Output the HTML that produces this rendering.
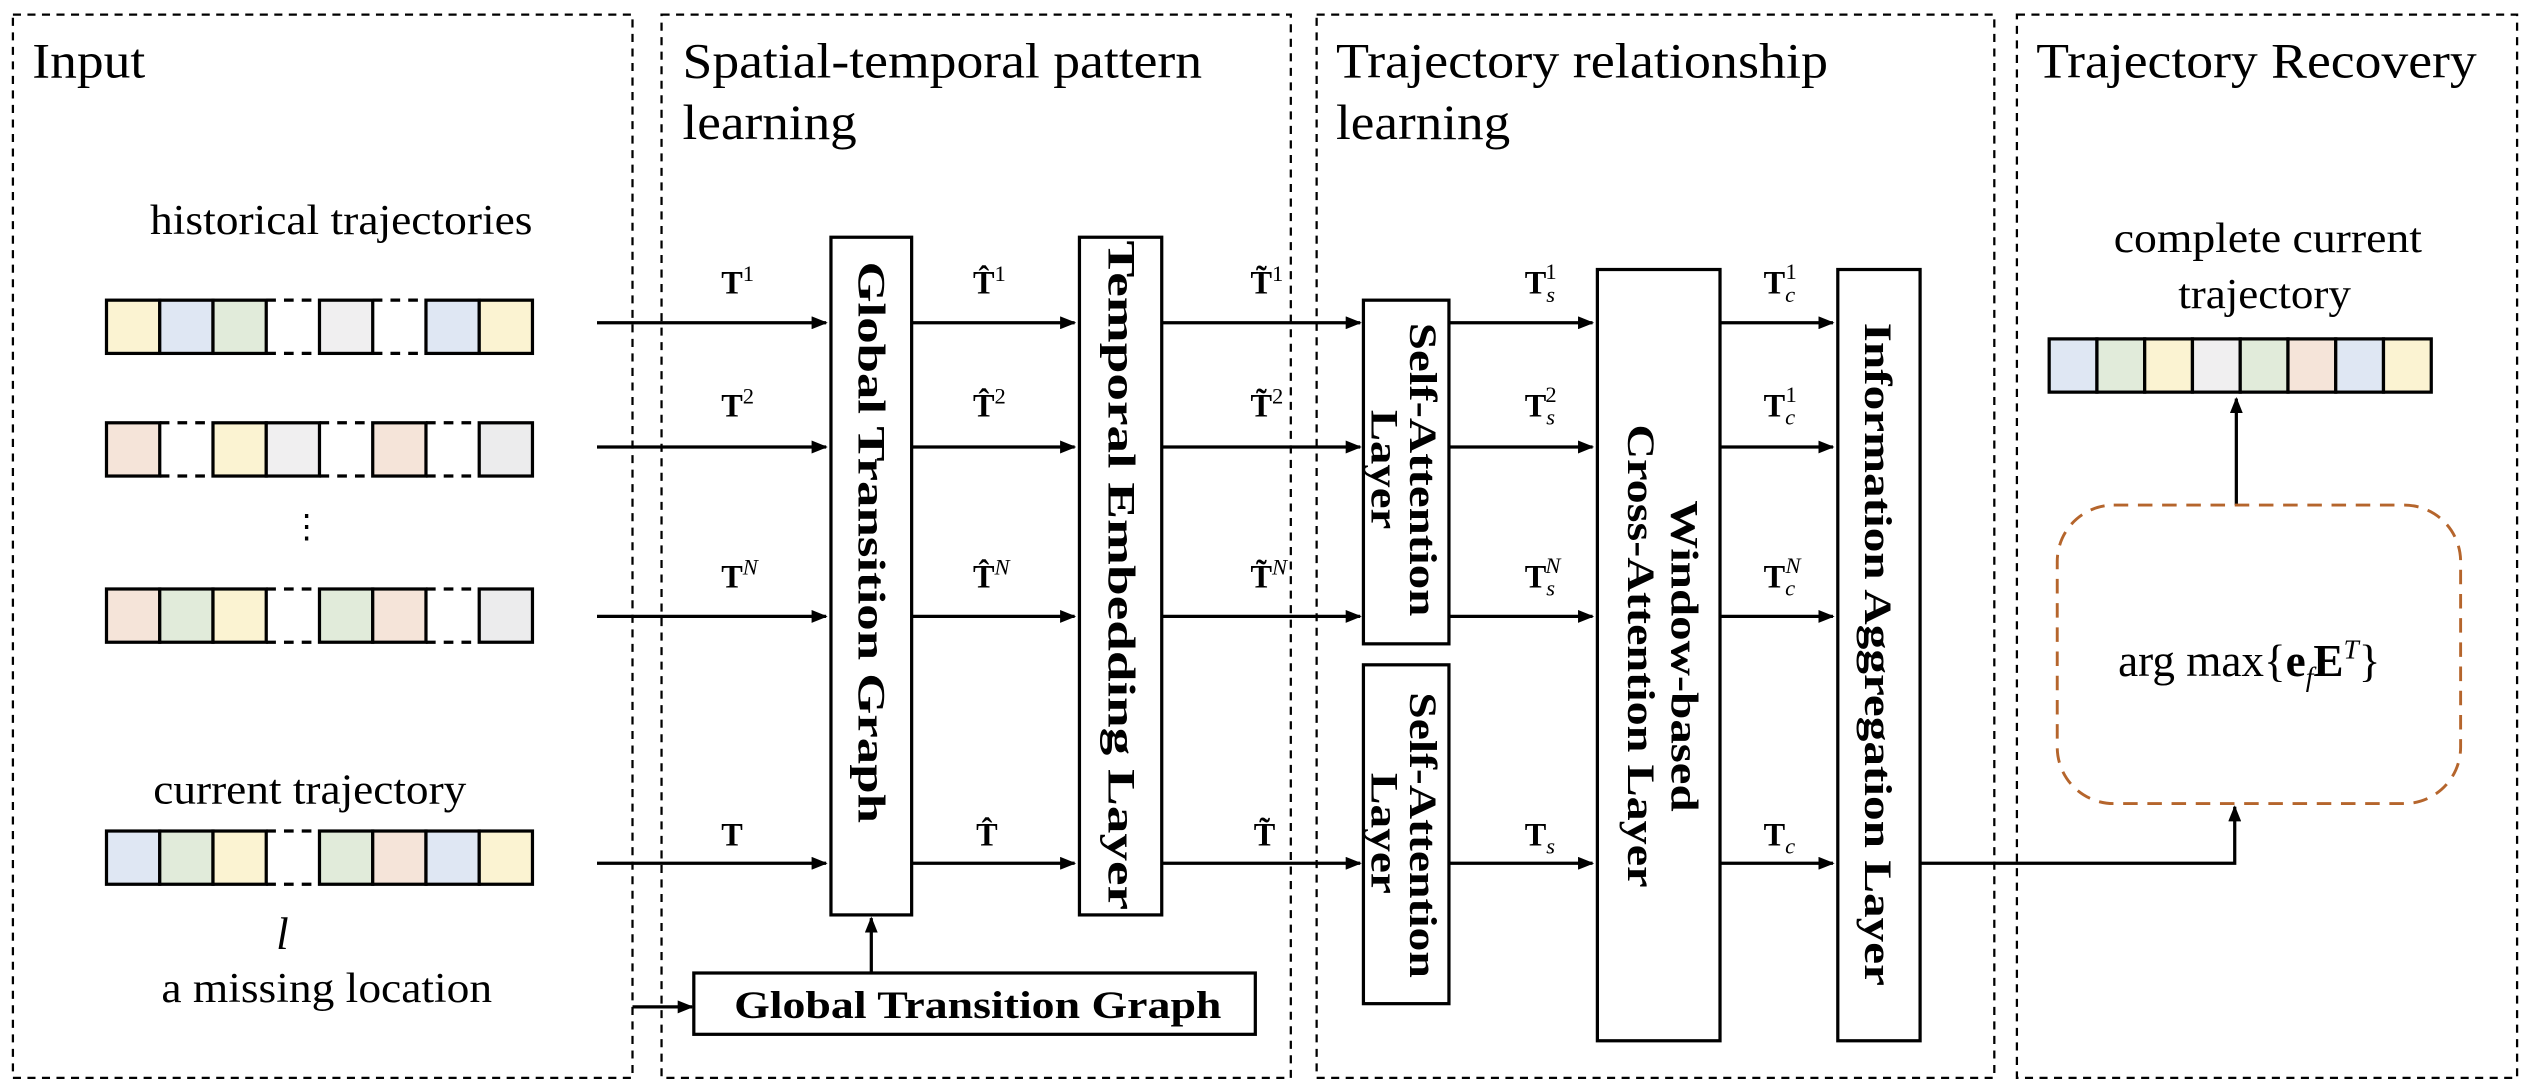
<!DOCTYPE html>
<html><head><meta charset="utf-8"><style>
html,body{margin:0;padding:0;background:#fff;}
svg{display:block;}
text{font-family:"Liberation Serif",serif;fill:#000;}
.t{font-size:31px;}
.s{font-size:26px;}
.m{font-size:19px;}
.b{font-weight:bold;font-size:20px;}
.v{font-weight:bold;font-size:24px;}
</style></head><body>
<svg width="2530" height="1086" viewBox="0 0 1568 673" xmlns="http://www.w3.org/2000/svg">
<defs>
<marker id="a" markerWidth="10" markerHeight="8" refX="9" refY="4" orient="auto" markerUnits="userSpaceOnUse">
<path d="M0,0 L10,4 L0,8 z" fill="#000"/></marker>
</defs>
<g fill="none" stroke="#000" stroke-width="1.4" stroke-dasharray="5,4">
<rect x="8" y="9" width="384" height="659"/>
<rect x="410" y="9" width="390" height="659"/>
<rect x="816" y="9" width="420" height="659"/>
<rect x="1250" y="9" width="310" height="659"/>
</g>
<text class="t" x="20" y="48" textLength="70" lengthAdjust="spacingAndGlyphs">Input</text>
<text class="t" x="423" y="48" textLength="322" lengthAdjust="spacingAndGlyphs">Spatial-temporal pattern</text>
<text class="t" x="423" y="86" textLength="108" lengthAdjust="spacingAndGlyphs">learning</text>
<text class="t" x="828" y="48" textLength="305" lengthAdjust="spacingAndGlyphs">Trajectory relationship</text>
<text class="t" x="828" y="86" textLength="108" lengthAdjust="spacingAndGlyphs">learning</text>
<text class="t" x="1262" y="48" textLength="273" lengthAdjust="spacingAndGlyphs">Trajectory Recovery</text>

<text class="s" x="93" y="145" textLength="237" lengthAdjust="spacingAndGlyphs">historical trajectories</text>
<text class="s" x="95" y="498" textLength="194" lengthAdjust="spacingAndGlyphs">current trajectory</text>
<text x="175" y="588" text-anchor="middle" style="font-size:28px;font-style:italic">l</text>
<text class="s" x="100" y="621" textLength="205" lengthAdjust="spacingAndGlyphs">a missing location</text>
<text x="190" y="333" text-anchor="middle" style="font-size:20px">⋮</text>

<g stroke="#000" stroke-width="2">
<rect x="66" y="186" width="33" height="33" fill="#fbf3d2"/>
<rect x="99" y="186" width="33" height="33" fill="#dfe7f3"/>
<rect x="132" y="186" width="33" height="33" fill="#e1ebda"/>
<rect x="198" y="186" width="33" height="33" fill="#f0eff0"/>
<rect x="264" y="186" width="33" height="33" fill="#dfe7f3"/>
<rect x="297" y="186" width="33" height="33" fill="#fbf3d2"/>
<rect x="66" y="262" width="33" height="33" fill="#f5e4d9"/>
<rect x="132" y="262" width="33" height="33" fill="#fbf3d2"/>
<rect x="165" y="262" width="33" height="33" fill="#f0eff0"/>
<rect x="231" y="262" width="33" height="33" fill="#f5e4d9"/>
<rect x="297" y="262" width="33" height="33" fill="#ececed"/>
<rect x="66" y="365" width="33" height="33" fill="#f5e4d9"/>
<rect x="99" y="365" width="33" height="33" fill="#e1ebda"/>
<rect x="132" y="365" width="33" height="33" fill="#fbf3d2"/>
<rect x="198" y="365" width="33" height="33" fill="#e1ebda"/>
<rect x="231" y="365" width="33" height="33" fill="#f5e4d9"/>
<rect x="297" y="365" width="33" height="33" fill="#ececed"/>
<rect x="66" y="515" width="33" height="33" fill="#dfe7f3"/>
<rect x="99" y="515" width="33" height="33" fill="#e1ebda"/>
<rect x="132" y="515" width="33" height="33" fill="#fbf3d2"/>
<rect x="198" y="515" width="33" height="33" fill="#e1ebda"/>
<rect x="231" y="515" width="33" height="33" fill="#f5e4d9"/>
<rect x="264" y="515" width="33" height="33" fill="#dfe7f3"/>
<rect x="297" y="515" width="33" height="33" fill="#fbf3d2"/>
<rect x="1270" y="210" width="29.6" height="33" fill="#dfe7f3"/>
<rect x="1299.6" y="210" width="29.6" height="33" fill="#e1ebda"/>
<rect x="1329.2" y="210" width="29.6" height="33" fill="#fbf3d2"/>
<rect x="1358.8" y="210" width="29.6" height="33" fill="#f0eff0"/>
<rect x="1388.4" y="210" width="29.6" height="33" fill="#e1ebda"/>
<rect x="1418" y="210" width="29.6" height="33" fill="#f5e4d9"/>
<rect x="1447.6" y="210" width="29.6" height="33" fill="#dfe7f3"/>
<rect x="1477.2" y="210" width="29.6" height="33" fill="#fbf3d2"/>
</g>
<g stroke="#000" stroke-width="2" stroke-dasharray="6,5">
<path d="M165,186H198M165,219H198M231,186H264M231,219H264"/>
<path d="M99,262H132M99,295H132M198,262H231M198,295H231M264,262H297M264,295H297"/>
<path d="M165,365H198M165,398H198M264,365H297M264,398H297"/>
<path d="M165,515H198M165,548H198"/>
</g>

<g stroke="#000" stroke-width="2" fill="none" marker-end="url(#a)">
<path d="M370,200H512"/><path d="M370,277H512"/><path d="M370,382H512"/><path d="M370,535H512"/>
<path d="M565,200H666"/><path d="M565,277H666"/><path d="M565,382H666"/><path d="M565,535H666"/>
<path d="M720,200H843"/><path d="M720,277H843"/><path d="M720,382H843"/><path d="M720,535H843"/>
<path d="M898,200H987"/><path d="M898,277H987"/><path d="M898,382H987"/><path d="M898,535H987"/>
<path d="M1066,200H1136"/><path d="M1066,277H1136"/><path d="M1066,382H1136"/><path d="M1066,535H1136"/>
<path d="M392,624H429"/>
<path d="M540,603V569"/>
<path d="M1190,535H1385V500"/>
<path d="M1386,313V247"/>
</g>

<g fill="#fff" stroke="#000" stroke-width="2">
<rect x="515" y="147" width="50" height="420"/>
<rect x="669" y="147" width="51" height="420"/>
<rect x="845" y="186" width="53" height="213"/>
<rect x="845" y="412" width="53" height="210"/>
<rect x="990" y="167" width="76" height="478"/>
<rect x="1139" y="167" width="51" height="478"/>
<rect x="430" y="603" width="348" height="38"/>
</g>
<rect x="1275" y="313" width="250" height="185" rx="35" fill="none" stroke="#b5652c" stroke-width="1.8" stroke-dasharray="9,6"/>

<text class="v" transform="translate(540,162) rotate(90)" y="8" textLength="348" lengthAdjust="spacingAndGlyphs">Global Transition Graph</text>
<text class="v" transform="translate(695,149) rotate(90)" y="8" textLength="415" lengthAdjust="spacingAndGlyphs">Temporal Embedding Layer</text>
<text class="v" transform="translate(871,200) rotate(90)" y="-3" textLength="182" lengthAdjust="spacingAndGlyphs">Self-Attention</text>
<text class="v" transform="translate(871,254) rotate(90)" y="21" textLength="74" lengthAdjust="spacingAndGlyphs">Layer</text>
<text class="v" transform="translate(871,429) rotate(90)" y="-3" textLength="177" lengthAdjust="spacingAndGlyphs">Self-Attention</text>
<text class="v" transform="translate(871,479) rotate(90)" y="21" textLength="75" lengthAdjust="spacingAndGlyphs">Layer</text>
<text class="v" transform="translate(1028,310) rotate(90)" y="-8" textLength="193" lengthAdjust="spacingAndGlyphs">Window-based</text>
<text class="v" transform="translate(1028,263) rotate(90)" y="19" textLength="287" lengthAdjust="spacingAndGlyphs">Cross-Attention Layer</text>
<text class="v" transform="translate(1164,200) rotate(90)" y="8" textLength="411" lengthAdjust="spacingAndGlyphs">Information Aggregation Layer</text>
<text class="v" x="455" y="631" textLength="302" lengthAdjust="spacingAndGlyphs">Global Transition Graph</text>

<g>
<text class="b" x="447" y="182">T<tspan style="font-weight:normal;font-size:14px" dy="-8">1</tspan></text>
<text class="b" x="447" y="258">T<tspan style="font-weight:normal;font-size:14px" dy="-8">2</tspan></text>
<text class="b" x="447" y="364">T<tspan style="font-weight:normal;font-style:italic;font-size:14px" dy="-8">N</tspan></text>
<text class="b" x="447" y="524">T</text>
<text class="b" x="603" y="182">T̂<tspan style="font-weight:normal;font-size:14px" dy="-8">1</tspan></text>
<text class="b" x="603" y="258">T̂<tspan style="font-weight:normal;font-size:14px" dy="-8">2</tspan></text>
<text class="b" x="603" y="364">T̂<tspan style="font-weight:normal;font-style:italic;font-size:14px" dy="-8">N</tspan></text>
<text class="b" x="605" y="524">T̂</text>
<text class="b" x="775" y="182">T̃<tspan style="font-weight:normal;font-size:14px" dy="-8">1</tspan></text>
<text class="b" x="775" y="258">T̃<tspan style="font-weight:normal;font-size:14px" dy="-8">2</tspan></text>
<text class="b" x="775" y="364">T̃<tspan style="font-weight:normal;font-style:italic;font-size:14px" dy="-8">N</tspan></text>
<text class="b" x="777" y="524">T̃</text>
<text class="b" x="945" y="182">T<tspan style="font-weight:normal;font-style:italic;font-size:14px" dy="5">s</tspan><tspan style="font-weight:normal;font-size:14px" dx="-6" dy="-14">1</tspan></text>
<text class="b" x="945" y="258">T<tspan style="font-weight:normal;font-style:italic;font-size:14px" dy="5">s</tspan><tspan style="font-weight:normal;font-size:14px" dx="-6" dy="-14">2</tspan></text>
<text class="b" x="945" y="364">T<tspan style="font-weight:normal;font-style:italic;font-size:14px" dy="5">s</tspan><tspan style="font-weight:normal;font-style:italic;font-size:14px" dx="-6" dy="-14">N</tspan></text>
<text class="b" x="945" y="524">T<tspan style="font-weight:normal;font-style:italic;font-size:14px" dy="5">s</tspan></text>
<text class="b" x="1093" y="182">T<tspan style="font-weight:normal;font-style:italic;font-size:14px" dy="5">c</tspan><tspan style="font-weight:normal;font-size:14px" dx="-6" dy="-14">1</tspan></text>
<text class="b" x="1093" y="258">T<tspan style="font-weight:normal;font-style:italic;font-size:14px" dy="5">c</tspan><tspan style="font-weight:normal;font-size:14px" dx="-6" dy="-14">1</tspan></text>
<text class="b" x="1093" y="364">T<tspan style="font-weight:normal;font-style:italic;font-size:14px" dy="5">c</tspan><tspan style="font-weight:normal;font-style:italic;font-size:14px" dx="-6" dy="-14">N</tspan></text>
<text class="b" x="1093" y="524">T<tspan style="font-weight:normal;font-style:italic;font-size:14px" dy="5">c</tspan></text>
</g>

<text class="s" x="1310" y="156" textLength="191" lengthAdjust="spacingAndGlyphs">complete current</text>
<text class="s" x="1350" y="191" textLength="107" lengthAdjust="spacingAndGlyphs">trajectory</text>
<text x="1394" y="419" text-anchor="middle" style="font-size:28px">arg max{<tspan font-weight="bold">e</tspan><tspan font-style="italic" font-size="17" dy="6">f</tspan><tspan font-weight="bold" dy="-6">E</tspan><tspan font-style="italic" font-size="17" dy="-11">T</tspan><tspan dy="11">}</tspan></text>
</svg>
</body></html>
